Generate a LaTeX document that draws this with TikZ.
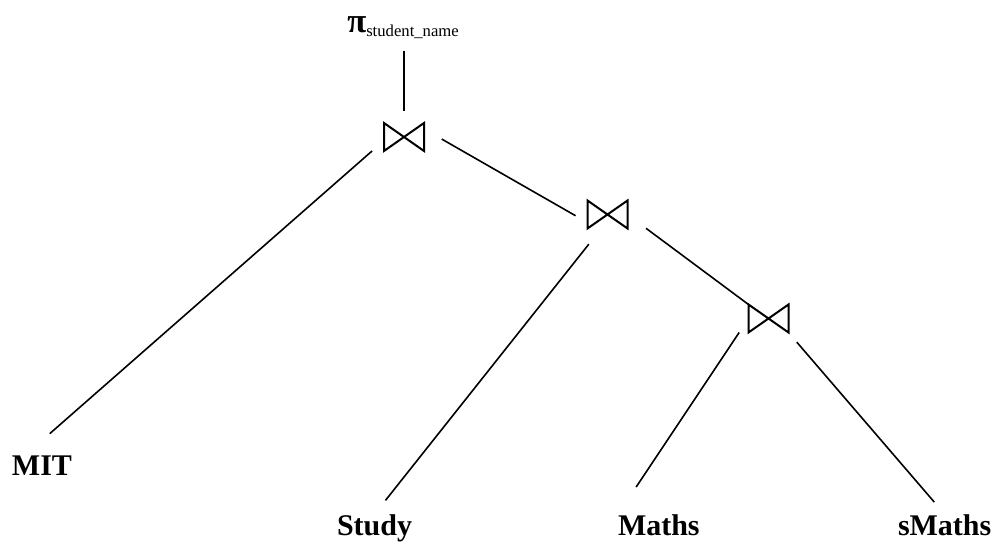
\documentclass[tikz,border=0pt]{standalone}
\usepackage{fontspec}
\setmainfont{Liberation Serif}

\begin{document}
\begin{tikzpicture}[x=0.75pt, y=-0.75pt,
    relname/.style={anchor=base west, inner sep=0pt, outer sep=0pt, font=\fontsize{22.5}{27}\selectfont\bfseries},
    joinop/.style={minimum width=30pt, minimum height=21pt, inner sep=0pt, outer sep=0pt},
    edge/.style={line width=1.2pt}]

    \useasboundingbox (0,0) rectangle (1004,545);

    % Projection
    \node[anchor=base west, inner sep=0pt] (proj) at (347,33)
      {{\fontsize{26}{30}\selectfont\bfseries π}\raisebox{-2.5pt}{\fontsize{12.5}{15}\selectfont student\_name}};

    % Joins
    \foreach \name/\x/\y in {j1/404/137, j2/607.5/214.5, j3/768.5/318.5} {
      \node[joinop] (\name) at (\x,\y) {};
      \draw[edge, line width=1.5pt] (\name.north west) -- (\name.south west) -- (\name.north east) -- (\name.south east) -- cycle;
    }

    % Relations
    \node[relname] (mit) at (12,475) {MIT};
    \node[relname] (study) at (337,535) {Study};
    \node[relname] (maths) at (618,535) {Maths};
    \node[relname] (smaths) at (898,535) {sMaths};

    % Edges
    \draw[edge, shorten <=9pt, shorten >=9pt] (proj.south -| j1.north) -- (j1.north);
    \draw[edge, shorten <=11.9pt, shorten >=24.7pt] (j1.190) -- (mit.150);
    \draw[edge, shorten <=15.3pt, shorten >=10.3pt] (j1.22) -- (j2.202);
    \draw[edge, shorten <=15pt, shorten >=13.2pt] (j2.246) -- (study.north);
    \draw[edge, shorten <=17.3pt] (j2.east) -- (j3.north west);
    \draw[edge, shorten <=12.6pt, shorten >=24.5pt] (j3.west) -- (maths.north west);
    \draw[edge, shorten <=9.5pt, shorten >=12pt] (j3.south east) -- (smaths.north);

\end{tikzpicture}
\end{document}
